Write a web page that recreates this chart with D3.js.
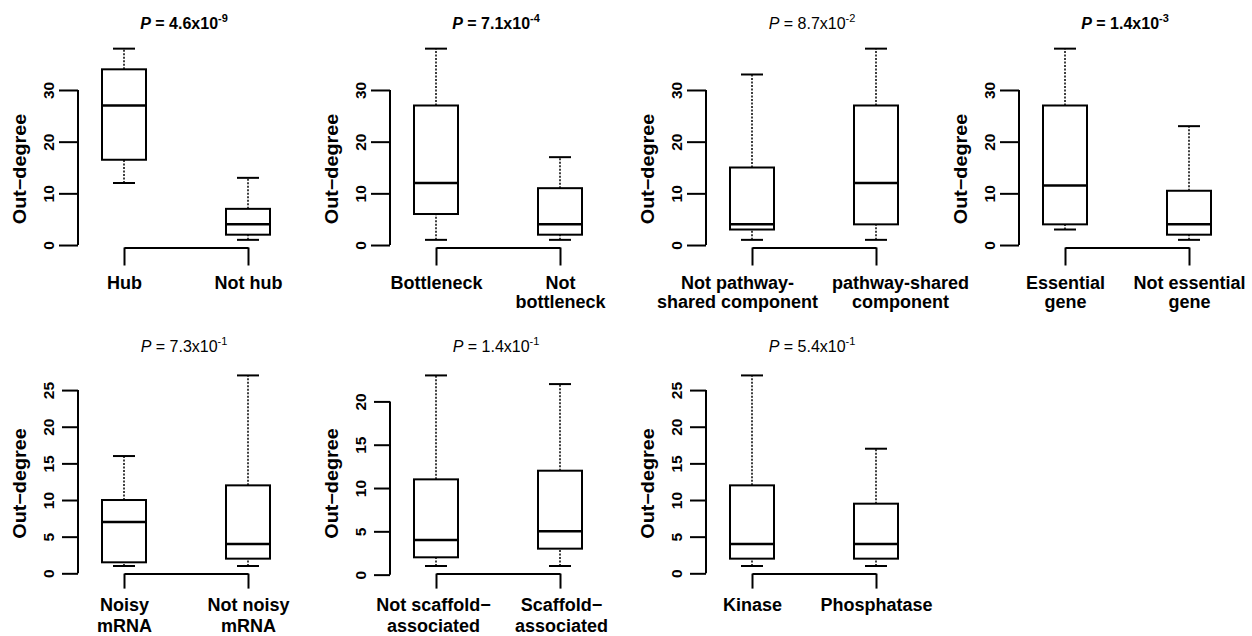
<!DOCTYPE html>
<html>
<head>
<meta charset="utf-8">
<script src="https://cdn.jsdelivr.net/npm/d3@7"></script>
<style>
  body { margin: 0; background: #fff; }
  svg { display: block; font-family: "Liberation Sans", Arial, sans-serif; }
</style>
</head>
<body>
<div id="chart"></div>
<script>
// p-values shown above each panel
const pMantissa = ["4.6", "7.1", "8.7", "1.4", "7.3", "1.4", "5.4"];
const pExponent = [-9, -4, -2, -3, -1, -1, -1];

// group labels, one array of lines per box
const groupLabels = [
  [["Hub"], ["Not hub"]],
  [["Bottleneck"], ["Not", "bottleneck"]],
  [["Not pathway-", "shared component"], ["pathway-shared", "component"]],
  [["Essential", "gene"], ["Not essential", "gene"]],
  [["Noisy", "mRNA"], ["Not noisy", "mRNA"]],
  [["Not scaffold\u2212", "associated"], ["Scaffold\u2212", "associated"]],
  [["Kinase"], ["Phosphatase"]]
];

// [min, Q1, median, Q3, max] per box
const boxStats = [
  [[12, 16.5, 27, 34, 38], [1, 2, 4, 7, 13]],
  [[1, 6, 12, 27, 38], [1, 2, 4, 11, 17]],
  [[1, 3, 4, 15, 33], [1, 4, 12, 27, 38]],
  [[3, 4, 11.5, 27, 38], [1, 2, 4, 10.5, 23]],
  [[1, 1.5, 7, 10, 16], [1, 2, 4, 12, 27]],
  [[1, 2, 4, 11, 23], [1, 3, 5, 12, 22]],
  [[1, 2, 4, 12, 27], [1, 2, 4, 9.5, 17]]
];

const yTicks = [
  [0, 10, 20, 30], [0, 10, 20, 30], [0, 10, 20, 30], [0, 10, 20, 30],
  [0, 5, 10, 15, 20, 25], [0, 5, 10, 15, 20], [0, 5, 10, 15, 20, 25]
];

const yLabel = "Out\u2212degree";

// layout
const axisX = [78, 390, 706, 1019, 78, 390, 706];
const panelRow = [0, 0, 0, 0, 1, 1, 1];
const labelShift = [[0, 0], [0, 0], [-15, 24], [0, 0], [0, 0], [-3, 1], [0, 0]];
const rows = [
  { top: 41, bottom: 247.5, titleY: 29, tick: 19, xTick: 18, labelY: 289, gap: 19, ylabY: 169 },
  { top: 367.8, bottom: 573.6, titleY: 352, tick: 16, xTick: 15, labelY: 611, gap: 21, ylabY: 483.5 }
];
const boxWidth = 44;

const svg = d3.select("#chart")
  .append("svg")
  .attr("width", 1252)
  .attr("height", 636);

svg.append("rect").attr("width", 1252).attr("height", 636).attr("fill", "#fff");

boxStats.forEach((stats, p) => {
  const row = rows[panelRow[p]];
  const ax = axisX[p];
  const g = svg.append("g");

  const lo = d3.min(stats, s => s[0]);
  const hi = d3.max(stats, s => s[4]);
  const pad = (hi - lo) * 0.04;

  const y = d3.scaleLinear()
    .domain([lo - pad, hi + pad])
    .range([row.bottom, row.top]);

  const x = d3.scalePoint()
    .domain([0, 1])
    .range([ax + 46, ax + 170]);

  // y axis
  const ticks = yTicks[p];
  const yAxis = g.append("g")
    .attr("transform", "translate(" + ax + ",0)")
    .call(d3.axisLeft(y).tickValues(ticks).tickSize(row.tick).tickSizeOuter(0));
  yAxis.select(".domain")
    .attr("d", "M0," + y(ticks[0]) + "V" + y(ticks[ticks.length - 1]))
    .attr("stroke-width", 2);
  yAxis.selectAll(".tick line").attr("stroke-width", 2);
  yAxis.selectAll(".tick text")
    .attr("x", null)
    .attr("dy", null)
    .attr("transform", "translate(-24.5,0) rotate(-90)")
    .attr("text-anchor", "middle")
    .style("font-size", "15.5px")
    .style("font-weight", "bold")
    .attr("fill", "#000");

  // y label
  g.append("text")
    .attr("transform", "translate(" + (ax - 52) + "," + row.ylabY + ") rotate(-90) scale(1.1,1)")
    .attr("text-anchor", "middle")
    .style("font-size", "18px")
    .style("font-weight", "bold")
    .text(yLabel);

  // x axis (bracket)
  const xAxis = g.append("g")
    .attr("transform", "translate(0," + row.bottom + ")")
    .call(d3.axisBottom(x).tickSize(row.xTick).tickSizeOuter(0).tickFormat(""));
  xAxis.select(".domain").attr("stroke-width", 2);
  xAxis.selectAll(".tick line").attr("stroke-width", 2);
  xAxis.selectAll(".tick text").remove();
  xAxis.selectAll(".tick").each(function(d) {
    const t = d3.select(this).append("text")
      .attr("y", row.labelY - row.bottom)
      .attr("text-anchor", "middle")
      .attr("fill", "#000")
      .style("font-size", "18px")
      .style("font-weight", "bold");
    groupLabels[p][d].forEach((line, i) => {
      t.append("tspan")
        .attr("x", labelShift[p][d])
        .attr("dy", i === 0 ? 0 : row.gap)
        .text(line);
    });
  });

  // boxes
  stats.forEach((s, i) => {
    const cx = x(i);
    g.append("line")
      .attr("x1", cx).attr("x2", cx)
      .attr("y1", y(s[3])).attr("y2", y(s[4]))
      .attr("stroke", "#000").attr("stroke-width", 1.5)
      .attr("stroke-dasharray", "2,1.5");
    g.append("line")
      .attr("x1", cx).attr("x2", cx)
      .attr("y1", y(s[0])).attr("y2", y(s[1]))
      .attr("stroke", "#000").attr("stroke-width", 1.5)
      .attr("stroke-dasharray", "2,1.5");
    [s[0], s[4]].forEach(v => {
      g.append("line")
        .attr("x1", cx - boxWidth / 4).attr("x2", cx + boxWidth / 4)
        .attr("y1", y(v)).attr("y2", y(v))
        .attr("stroke", "#000").attr("stroke-width", 2);
    });
    g.append("rect")
      .attr("x", cx - boxWidth / 2)
      .attr("y", y(s[3]))
      .attr("width", boxWidth)
      .attr("height", y(s[1]) - y(s[3]))
      .attr("fill", "none")
      .attr("stroke", "#000")
      .attr("stroke-width", 2);
    g.append("line")
      .attr("x1", cx - boxWidth / 2).attr("x2", cx + boxWidth / 2)
      .attr("y1", y(s[2])).attr("y2", y(s[2]))
      .attr("stroke", "#000").attr("stroke-width", 2.5);
  });

  // title
  const pValue = +pMantissa[p] * Math.pow(10, pExponent[p]);
  const title = g.append("text")
    .attr("x", (x(0) + x(1)) / 2 - 2)
    .attr("y", row.titleY)
    .attr("text-anchor", "middle")
    .style("font-size", "16px")
    .style("font-weight", pValue < 0.05 ? "bold" : "normal");
  title.append("tspan").style("font-style", "italic").text("P");
  title.append("tspan").text(" = " + pMantissa[p] + "x10");
  title.append("tspan")
    .attr("dy", -7)
    .style("font-size", "11px")
    .text(pExponent[p]);
});
</script>
</body>
</html>
